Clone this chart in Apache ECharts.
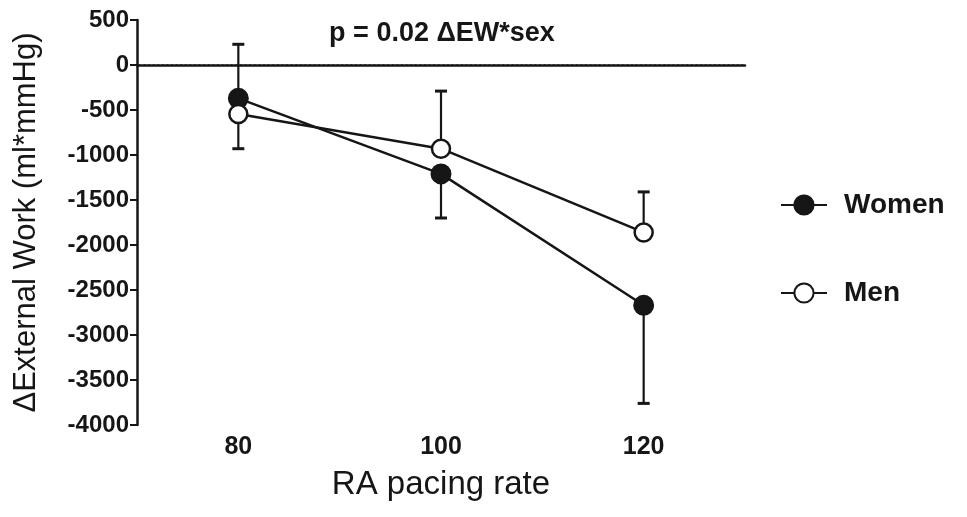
<!DOCTYPE html>
<html>
<head>
<meta charset="utf-8">
<title>External work vs pacing rate</title>
<style>
  html, body { margin: 0; padding: 0; background: #fff; }
  #chart { width: 967px; height: 517px; }
</style>
</head>
<body>
<div id="chart"></div>
<script src="https://cdn.jsdelivr.net/npm/echarts@6/dist/echarts.min.js"></script>
<script>
// pacing rates (x) and mean change in external work per group
var rates = [80, 100, 120];
var womenMean = [-370, -1210, -2670];
var menMean = [-545, -930, -1860];
// error bar far ends (women drawn downward / men upward, as in the figure)
var womenErrEnd = [230, -1700, -3760];
var menErrEnd = [-930, -290, -1410];
var xLabels = [80, 100, 120];
var refLevel = 0;

var font = 'Liberation Sans, Arial, sans-serif';
var ink = '#161616';

function pairs(xs, ys) {
  var out = [];
  for (var i = 0; i < xs.length; i++) out.push([xs[i], ys[i]]);
  return out;
}
function errData(xs, mean, end) {
  var out = [];
  for (var i = 0; i < xs.length; i++) out.push([xs[i], mean[i], end[i]]);
  return out;
}

function renderErr(params, api) {
  var x = api.value(0);
  var a = api.coord([x, api.value(1)]);
  var b = api.coord([x, api.value(2)]);
  var cap = 6;
  var st = { stroke: ink, lineWidth: 2.2 };
  return {
    type: 'group',
    children: [
      { type: 'line', shape: { x1: a[0], y1: a[1], x2: b[0], y2: b[1] }, style: st },
      { type: 'line', shape: { x1: b[0] - cap, y1: b[1], x2: b[0] + cap, y2: b[1] }, style: { stroke: ink, lineWidth: 3 } }
    ]
  };
}

// dotted zero line across the whole plot area
function renderZero(params, api) {
  var y = api.coord([0, api.value(0)])[1];
  var cs = params.coordSys;
  return {
    type: 'line',
    shape: { x1: cs.x + 2, y1: y, x2: cs.x + cs.width, y2: y },
    style: { stroke: '#333', lineWidth: 1.6, lineDash: [1.6, 3] }
  };
}

var option = {
  animation: false,
  title: {
    text: 'p = 0.02 \u0394EW*sex',
    left: 437,
    textAlign: 'center',
    top: 15,
    textStyle: { fontFamily: font, fontSize: 27, fontWeight: 'bold', color: ink }
  },
  grid: { left: 137, right: 222, top: 20, bottom: 92 },
  legend: {
    orient: 'vertical',
    left: 775,
    top: 186,
    itemGap: 60,
    itemWidth: 46,
    itemHeight: 24,
    data: ['Women', 'Men'],
    textStyle: { fontFamily: font, fontSize: 28, fontWeight: 'bold', color: ink, padding: [0, 0, 0, 12] }
  },
  xAxis: {
    type: 'value',
    min: 70,
    max: 130,
    interval: 10,
    name: 'RA pacing rate',
    nameLocation: 'middle',
    nameGap: 43,
    nameTextStyle: { fontFamily: font, fontSize: 33, color: ink },
    axisLine: { lineStyle: { color: ink, width: 2.5 } },
    axisTick: { show: false },
    splitLine: { show: false },
    axisLabel: {
      margin: 10,
      fontFamily: font, fontSize: 25, fontWeight: 'bold', color: ink,
      formatter: function (v) { return xLabels.indexOf(v) >= 0 ? String(v) : ''; }
    }
  },
  yAxis: {
    type: 'value',
    min: -4000,
    max: 500,
    interval: 500,
    name: '\u0394External Work (ml*mmHg)',
    nameLocation: 'middle',
    nameGap: 95,
    nameTextStyle: { fontFamily: font, fontSize: 31, color: ink },
    axisLine: { show: true, lineStyle: { color: ink, width: 2.5 } },
    axisTick: { show: true, inside: false, length: 7, lineStyle: { color: ink, width: 2 } },
    splitLine: { show: false },
    axisLabel: {
      margin: 8, fontFamily: font, fontSize: 24, fontWeight: 'bold', color: ink,
      formatter: function (v) { return String(v); }
    }
  },
  series: [
    {
      name: 'zero',
      type: 'custom',
      renderItem: renderZero,
      data: [[refLevel]],
      encode: { y: 0 },
      silent: true,
      z: 0
    },
    {
      name: 'errWomen',
      type: 'custom',
      renderItem: renderErr,
      data: errData(rates, womenMean, womenErrEnd),
      z: 1
    },
    {
      name: 'errMen',
      type: 'custom',
      renderItem: renderErr,
      data: errData(rates, menMean, menErrEnd),
      z: 1
    },
    {
      name: 'Women',
      type: 'line',
      data: pairs(rates, womenMean),
      symbol: 'circle',
      symbolSize: 19,
      lineStyle: { color: ink, width: 2.5 },
      itemStyle: { color: ink, borderColor: ink, borderWidth: 2 },
      z: 3
    },
    {
      name: 'Men',
      type: 'line',
      data: pairs(rates, menMean),
      symbol: 'circle',
      symbolSize: 18,
      lineStyle: { color: ink, width: 2.5 },
      itemStyle: { color: '#fff', borderColor: ink, borderWidth: 2.5 },
      z: 4
    }
  ]
};

var chart = echarts.init(document.getElementById('chart'));
chart.setOption(option);
</script>
</body>
</html>
